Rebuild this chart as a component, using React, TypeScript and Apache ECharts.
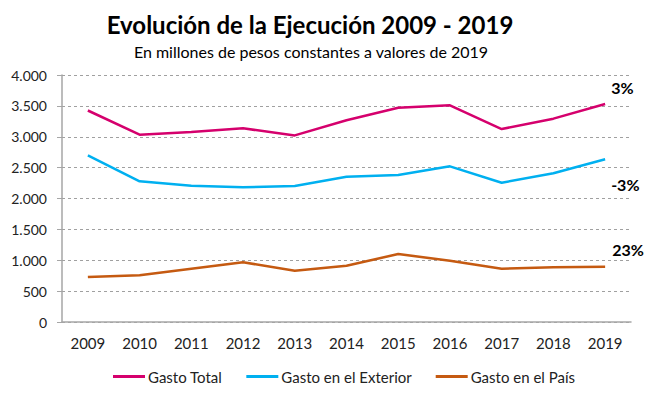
import React, { useEffect, useRef } from "react";
import * as echarts from "echarts";

const years = ["2009", "2010", "2011", "2012", "2013", "2014", "2015", "2016", "2017", "2018", "2019"];
const gastoTotal = [3425, 3033, 3078, 3136, 3022, 3266, 3470, 3509, 3125, 3293, 3530];
const gastoExterior = [2700, 2278, 2207, 2181, 2202, 2353, 2380, 2521, 2256, 2408, 2635];
const gastoPais = [729, 756, 864, 967, 831, 912, 1101, 993, 864, 886, 896];
const seriesNames = ["Gasto Total", "Gasto en el Exterior", "Gasto en el País"];
const endNotes = ["3%", "-3%", "23%"];
const colors = ["#D5006D", "#00B0F0", "#C55A11"];

const FONT = "Lato, 'Open Sans', sans-serif";

export default function App() {
  const ref = useRef<HTMLDivElement>(null);
  useEffect(() => {
    if (!ref.current) return;
    const chart = echarts.init(ref.current, null, { renderer: "svg" });
    const fmt = (v: number) => String(v).replace(/\B(?=(\d{3})+(?!\d))/g, ".");
    const data = [gastoTotal, gastoExterior, gastoPais];
    chart.setOption({
      animation: false,
      backgroundColor: "#ffffff",
      textStyle: { fontFamily: FONT },
      title: [
        {
          text: "Evolución de la Ejecución 2009 - 2019",
          left: 305,
          textAlign: "center",
          top: 7,
          textStyle: { fontFamily: FONT, fontSize: 24, fontWeight: "bold", color: "#000" },
        },
        {
          text: "En millones de pesos constantes a valores de 2019",
          left: 306,
          textAlign: "center",
          top: 38,
          textStyle: { fontFamily: FONT, fontSize: 16, fontWeight: "normal", color: "#000" },
        },
      ],
      grid: { left: 62, right: 24, top: 75, bottom: 77 },
      legend: {
        bottom: 10,
        left: 108,
        itemWidth: 32,
        itemHeight: 3,
        itemGap: 24,
        icon: "rect",
        textStyle: { fontFamily: FONT, fontSize: 15, color: "#222", padding: [0, 0, 0, -2] },
        data: seriesNames,
      },
      xAxis: {
        type: "category",
        data: years,
        boundaryGap: true,
        axisLine: { lineStyle: { color: "#A6A6A6", width: 1.5 } },
        axisTick: { show: false },
        axisLabel: { fontFamily: FONT, fontSize: 15, color: "#222", margin: 13 },
      },
      yAxis: {
        type: "value",
        min: 0,
        max: 4000,
        interval: 500,
        axisLine: { show: true, lineStyle: { color: "#A6A6A6", width: 1.5 } },
        axisTick: { show: true, length: 5, lineStyle: { color: "#A6A6A6" } },
        axisLabel: { fontFamily: FONT, fontSize: 14, color: "#222", margin: 15, formatter: fmt },
        splitLine: { lineStyle: { color: "#A0A0A0", type: [3, 3], width: 1 } },
      },
      series: seriesNames.map((name, i) => ({
        name,
        type: "line",
        data: data[i],
        symbol: "none",
        color: colors[i],
        lineStyle: { width: 2.5, color: colors[i] },
        endLabel: {
          show: true,
          formatter: () => endNotes[i],
          fontFamily: FONT,
          fontSize: 16,
          fontWeight: "bold",
          color: "#000",
          offset: [i === 0 ? -2 : i === 1 ? -2 : -1, i === 0 ? -17 : i === 1 ? 25 : -17],
        },
      })),
    });
    return () => chart.dispose();
  }, []);
  return <div ref={ref} style={{ width: 655, height: 399, margin: -8 }} />;
}
